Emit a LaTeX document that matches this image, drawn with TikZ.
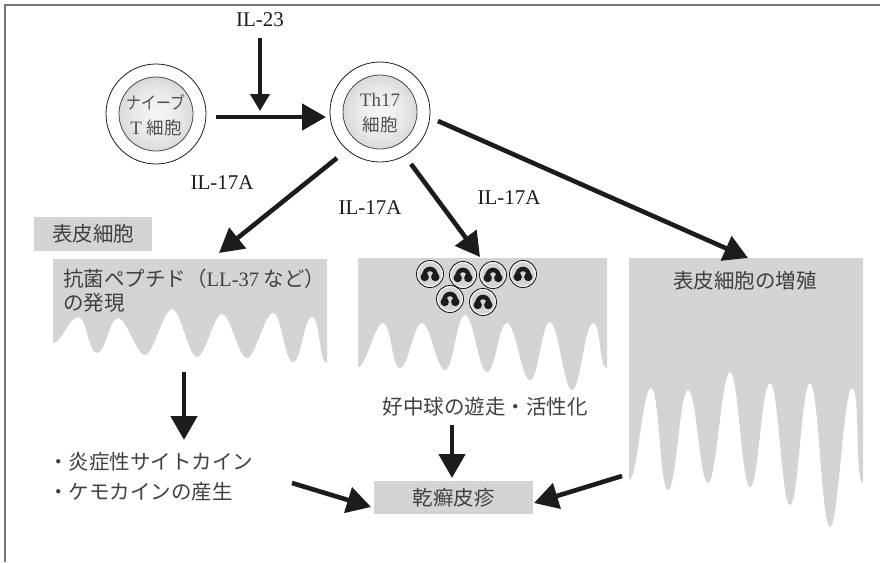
\documentclass[tikz,border=0pt]{standalone}
\usepackage{fontspec}
\setmainfont{Liberation Serif}
\newfontfamily\jp{Noto Sans CJK JP}
\usetikzlibrary{arrows.meta}

\definecolor{skin}{HTML}{D3D4D6}
\definecolor{ink}{HTML}{1C1C1C}
\definecolor{txt}{HTML}{404040}
\definecolor{celltxt}{HTML}{505050}
\definecolor{framegray}{HTML}{777777}

% soft sphere used for the cell bodies
\pgfdeclareradialshading{cellball}{\pgfpoint{0bp}{0bp}}{%
  color(0bp)=(gray!6); color(16bp)=(gray!18); color(34bp)=(gray!40); color(50bp)=(gray!62)}

% rete ridges: smooth flank from (x0,y0) to (x1,y1), level at both ends
\def\wv#1#2#3#4{.. controls (#1+8.5,#2) and (#3-8.5,#4) .. (#3,#4)}

\begin{document}
\begin{tikzpicture}[x=1pt,y=-1pt,
  flow/.style={line width=4.6pt, draw=ink, -{Triangle[length=24pt,width=26pt]}},
  thinflow/.style={line width=4pt, draw=ink, -{Triangle[length=17pt,width=19pt]}},
  jptext/.style={text=txt, inner sep=0pt, font=\jp\fontsize{20.5}{24}\selectfont},
  latin/.style={text=ink, inner sep=0pt, font=\fontsize{21}{24}\selectfont},
  cellout/.style={circle, draw=ink, line width=0.8pt, minimum size=100pt, inner sep=0pt},
  cellin/.style={circle, draw=ink!80, line width=0.8pt, shading=cellball, minimum size=74pt, inner sep=0pt},
  celllabel/.style={text=celltxt, align=center, inner sep=0pt, font=\fontsize{19}{25.5}\selectfont},
  neut/.pic={
    \draw[ink, line width=0.9pt, fill=white] (0,0) circle (13.5);
    \fill[skin] (0,0) circle (11.8);
    \draw[ink, line width=4.4pt, line cap=round] (-5.8,3.5) .. controls (-6.8,-8) and (6.8,-8) .. (5.8,3.5);
    \fill[ink] (-5.3,3) circle (4.2);
    \fill[ink] (5.3,3) circle (4.2);
  }]

\useasboundingbox (0,0) rectangle (880,562);

% frame
\draw[framegray, line width=2pt] (5,562) -- (5,5) -- (880,5);

% epidermis panels
\fill[skin] (53,259) -- (53,343)
  \wv{53}{343}{78}{317}   \wv{78}{317}{97}{353}
  \wv{97}{353}{118}{318}  \wv{118}{318}{145}{355}
  \wv{145}{355}{172}{309} \wv{172}{309}{197}{357}
  \wv{197}{357}{222}{314} \wv{222}{314}{247}{358}
  \wv{247}{358}{273}{313} \wv{273}{313}{293}{362}
  \wv{293}{362}{312}{317} \wv{312}{317}{327}{363}
  -- (327,259) -- cycle;
\fill[skin] (358,258) -- (358,367)
  \wv{358}{367}{383}{323} \wv{383}{323}{400}{368}
  \wv{400}{368}{422}{323} \wv{422}{323}{445}{370}
  \wv{445}{370}{465}{315} \wv{465}{315}{487}{372}
  \wv{487}{372}{507}{323} \wv{507}{323}{530}{380}
  \wv{530}{380}{550}{322} \wv{550}{322}{572}{390}
  \wv{572}{390}{593}{323} \wv{593}{323}{607}{368}
  -- (607,258) -- cycle;
\fill[skin] (629,258) -- (629,480)
  \wv{629}{480}{651}{388} \wv{651}{388}{668}{490}
  \wv{668}{490}{688}{390} \wv{688}{390}{708}{483}
  \wv{708}{483}{730}{372} \wv{730}{372}{750}{487}
  \wv{750}{487}{770}{383} \wv{770}{383}{790}{505}
  \wv{790}{505}{810}{383} \wv{810}{383}{830}{527}
  \wv{830}{527}{852}{388} \wv{852}{388}{863}{483}
  -- (863,258) -- cycle;

% neutrophils
\pic at (430,274) {neut};
\pic at (463,275) {neut};
\pic at (493,275) {neut};
\pic at (523,274) {neut};
\pic at (450,299) {neut};
\pic at (483,302) {neut};

% cells
\node[cellout] (naive) at (156,114) {};
\node[cellin] (naivecore) at (156,114) {};
\node[celllabel] (naivelbl) at (156,115) {{\jp\fontsize{17.5}{25.5}\selectfont\scalebox{0.85}[1]{ナイーブ}}\\T {\jp\fontsize{17.5}{25.5}\selectfont 細胞}};
\node[cellout] (th17) at (380,112) {};
\node[cellin] (th17core) at (380,112) {};
\node[celllabel] (th17lbl) at (380,113) {Th17\\{\jp\fontsize{17.5}{25.5}\selectfont 細胞}};

% labels
\node[latin] (il23) at (260,20) {IL-23};
\node[latin] (il17a) at (222,183) {IL-17A};
\node[latin] (il17b) at (370,208) {IL-17A};
\node[latin] (il17c) at (509,198) {IL-17A};

\node[fill=skin, minimum width=118pt, minimum height=34pt, inner sep=0pt] (epibox) at (93,234) {};
\node[jptext] (epi) at (93,234) {表皮細胞};
\node[jptext, anchor=west] (amp1) at (63,279) {{\jp 抗菌ペプチド（}{\rmfamily LL-37} {\jp など）}};
\node[jptext, anchor=west] (amp2) at (63,303) {の発現};
\node[jptext] (prolif) at (745,281) {表皮細胞の増殖};
\node[jptext] (neutro) at (485,407) {好中球の遊走・活性化};
\node[jptext, anchor=west] (cyto) at (48,462) {・炎症性サイトカイン};
\node[jptext, anchor=west] (chemo) at (48,492) {・ケモカインの産生};
\node[fill=skin, minimum width=159pt, minimum height=33pt, inner sep=0pt] (psobox) at (453.5,497.5) {};
\node[jptext] (psor) at (453.5,497.5) {乾癬皮疹};

% connector end points
\coordinate (il23s) at (260,38);
\coordinate (il23t) at (260,111);
\coordinate (diffs) at (216,117);
\coordinate (difft) at (326,117);
\coordinate (s1) at (337,158);
\coordinate (t1) at (219,253);
\coordinate (s2) at (411,164);
\coordinate (t2) at (480,257);
\coordinate (s3) at (438,121);
\coordinate (t3) at (748,258);
\coordinate (s4) at (184,372);
\coordinate (t4) at (184,440);
\coordinate (s5) at (452,425);
\coordinate (t5) at (452,478);
\coordinate (s6) at (292,483);
\coordinate (t6) at (371,507);
\coordinate (s7) at (622,476);
\coordinate (t7) at (534,503);

% connectors
\draw[thinflow] (il23s) -- (il23t);
\draw[flow] (diffs) -- (difft);
\draw[flow] (s1) -- (t1);
\draw[flow] (s2) -- (t2);
\draw[flow] (s3) -- (t3);
\draw[flow] (s4) -- (t4);
\draw[flow] (s5) -- (t5);
\draw[flow] (s6) -- (t6);
\draw[flow] (s7) -- (t7);
\end{tikzpicture}
\end{document}
